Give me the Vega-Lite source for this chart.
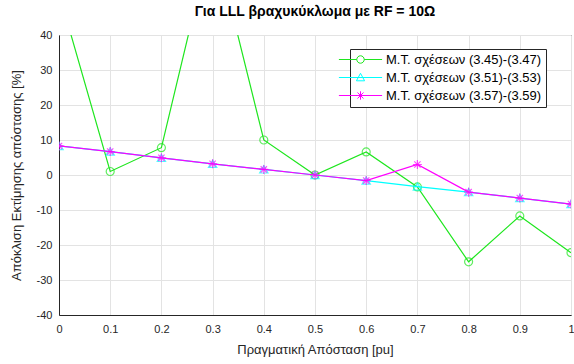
{
  "$schema": "https://vega.github.io/schema/vega-lite/v6.json",
  "width": 512,
  "height": 280,
  "autosize": {"type": "none"},
  "padding": {"left": 59, "top": 35, "right": 3, "bottom": 49},
  "background": "white",
  "title": {"text": "Για LLL βραχυκύκλωμα με RF = 10Ω", "fontSize": 14, "fontWeight": "bold", "font": "Liberation Sans", "color": "#000000", "offset": 10, "anchor": "middle"},
  "config": {
    "view": {"stroke": "#262626", "strokeWidth": 1},
    "font": "Liberation Sans",
    "axis": {"domainColor": "#262626", "gridColor": "#e3e3e3", "gridOpacity": 1, "ticks": false, "labelColor": "#262626", "labelFontSize": 11, "titleFontSize": 13, "titleFontWeight": "normal", "titleColor": "#262626", "labelFont": "Liberation Sans", "titleFont": "Liberation Sans"},
    "legend": {"orient": "none", "legendX": 291, "legendY": 14, "fillColor": "white", "strokeColor": "#262626", "padding": 4, "labelFontSize": 13, "labelFont": "Liberation Sans", "labelColor": "#000000", "symbolStrokeWidth": 1, "symbolOpacity": 1, "symbolSize": 144, "rowPadding": 4, "labelOffset": 19}
  },
  "data": {"values": [
    {"x": 0, "s": "M.T. σχέσεων (3.45)-(3.47)", "v": 52},
    {"x": 0.1, "s": "M.T. σχέσεων (3.45)-(3.47)", "v": 1},
    {"x": 0.2, "s": "M.T. σχέσεων (3.45)-(3.47)", "v": 7.8},
    {"x": 0.3, "s": "M.T. σχέσεων (3.45)-(3.47)", "v": 69},
    {"x": 0.4, "s": "M.T. σχέσεων (3.45)-(3.47)", "v": 10},
    {"x": 0.5, "s": "M.T. σχέσεων (3.45)-(3.47)", "v": 0},
    {"x": 0.6, "s": "M.T. σχέσεων (3.45)-(3.47)", "v": 6.6},
    {"x": 0.7, "s": "M.T. σχέσεων (3.45)-(3.47)", "v": -3.4},
    {"x": 0.8, "s": "M.T. σχέσεων (3.45)-(3.47)", "v": -24.8},
    {"x": 0.9, "s": "M.T. σχέσεων (3.45)-(3.47)", "v": -11.7},
    {"x": 1.0, "s": "M.T. σχέσεων (3.45)-(3.47)", "v": -22.2},
    {"x": 0, "s": "M.T. σχέσεων (3.51)-(3.53)", "v": 8.3},
    {"x": 0.1, "s": "M.T. σχέσεων (3.51)-(3.53)", "v": 6.7},
    {"x": 0.2, "s": "M.T. σχέσεων (3.51)-(3.53)", "v": 4.9},
    {"x": 0.3, "s": "M.T. σχέσεων (3.51)-(3.53)", "v": 3.2},
    {"x": 0.4, "s": "M.T. σχέσεων (3.51)-(3.53)", "v": 1.6},
    {"x": 0.5, "s": "M.T. σχέσεων (3.51)-(3.53)", "v": 0},
    {"x": 0.6, "s": "M.T. σχέσεων (3.51)-(3.53)", "v": -1.6},
    {"x": 0.7, "s": "M.T. σχέσεων (3.51)-(3.53)", "v": -3.3},
    {"x": 0.8, "s": "M.T. σχέσεων (3.51)-(3.53)", "v": -4.9},
    {"x": 0.9, "s": "M.T. σχέσεων (3.51)-(3.53)", "v": -6.6},
    {"x": 1.0, "s": "M.T. σχέσεων (3.51)-(3.53)", "v": -8.3},
    {"x": 0, "s": "M.T. σχέσεων (3.57)-(3.59)", "v": 8.3},
    {"x": 0.1, "s": "M.T. σχέσεων (3.57)-(3.59)", "v": 6.7},
    {"x": 0.2, "s": "M.T. σχέσεων (3.57)-(3.59)", "v": 4.9},
    {"x": 0.3, "s": "M.T. σχέσεων (3.57)-(3.59)", "v": 3.2},
    {"x": 0.4, "s": "M.T. σχέσεων (3.57)-(3.59)", "v": 1.6},
    {"x": 0.5, "s": "M.T. σχέσεων (3.57)-(3.59)", "v": 0},
    {"x": 0.6, "s": "M.T. σχέσεων (3.57)-(3.59)", "v": -1.6},
    {"x": 0.7, "s": "M.T. σχέσεων (3.57)-(3.59)", "v": 3.0},
    {"x": 0.8, "s": "M.T. σχέσεων (3.57)-(3.59)", "v": -4.9},
    {"x": 0.9, "s": "M.T. σχέσεων (3.57)-(3.59)", "v": -6.6},
    {"x": 1.0, "s": "M.T. σχέσεων (3.57)-(3.59)", "v": -8.3}
  ]},
  "encoding": {
    "x": {"field": "x", "type": "quantitative", "scale": {"domain": [0, 1], "nice": false, "zero": false}, "axis": {"values": [0, 0.1, 0.2, 0.3, 0.4, 0.5, 0.6, 0.7, 0.8, 0.9, 1], "format": "~g", "title": "Πραγματική Απόσταση [pu]", "labelPadding": 8, "titlePadding": 9, "labelFlush": false}},
    "y": {"field": "v", "type": "quantitative", "scale": {"domain": [-40, 40], "nice": false, "zero": false}, "axis": {"values": [-40, -30, -20, -10, 0, 10, 20, 30, 40], "labelExpr": "'' + datum.value", "title": "Απόκλιση Εκτίμησης απόστασης [%]", "labelPadding": 7, "titlePadding": 13, "labelFlush": false}}
  },
  "layer": [
    {
      "data": {"values": [{"h": 10}, {"h": -10}]},
      "mark": {"type": "rule", "color": "#4d4d4d", "strokeWidth": 1},
      "encoding": {"y": {"field": "h", "type": "quantitative"}, "x": {"datum": 0}, "x2": {"datum": 1}}
    },
    {
      "transform": [{"filter": "datum.s == 'M.T. σχέσεων (3.45)-(3.47)'"}],
      "mark": {"type": "line", "clip": true, "strokeWidth": 1.2, "color": "#1ee61e"},
      "encoding": {"order": {"field": "x"}}
    },
    {
      "transform": [{"filter": "datum.s == 'M.T. σχέσεων (3.45)-(3.47)'"}],
      "mark": {"type": "point", "shape": "circle", "filled": false, "size": 64, "color": "#1ee61e", "strokeWidth": 1.2, "clip": true}
    },
    {
      "transform": [{"filter": "datum.s == 'M.T. σχέσεων (3.51)-(3.53)'"}],
      "mark": {"type": "line", "clip": true, "strokeWidth": 1.2, "color": "#00ffff"},
      "encoding": {"order": {"field": "x"}}
    },
    {
      "transform": [{"filter": "datum.s == 'M.T. σχέσεων (3.51)-(3.53)'"}],
      "mark": {"type": "point", "shape": "triangle-up", "filled": false, "size": 70, "color": "#00ffff", "strokeWidth": 1.2, "clip": true}
    },
    {
      "transform": [{"filter": "datum.s == 'M.T. σχέσεων (3.57)-(3.59)'"}],
      "mark": {"type": "line", "clip": true, "strokeWidth": 1.2, "color": "#ff00ff"},
      "encoding": {"order": {"field": "x"}}
    },
    {
      "transform": [{"filter": "datum.s == 'M.T. σχέσεων (3.57)-(3.59)'"}],
      "mark": {"type": "point", "shape": "M-1,0L1,0M0,-1L0,1M-0.7,-0.7L0.7,0.7M-0.7,0.7L0.7,-0.7", "filled": false, "size": 81, "color": "#ff00ff", "strokeWidth": 1.2, "clip": true}
    },
    {
      "mark": {"type": "point", "filled": false, "opacity": 0, "size": 144, "clip": true},
      "encoding": {
        "color": {"field": "s", "type": "nominal", "title": null, "scale": {"domain": ["M.T. σχέσεων (3.45)-(3.47)", "M.T. σχέσεων (3.51)-(3.53)", "M.T. σχέσεων (3.57)-(3.59)"], "range": ["#1ee61e", "#00ffff", "#ff00ff"]}},
        "shape": {"field": "s", "type": "nominal", "title": null, "scale": {"domain": ["M.T. σχέσεων (3.45)-(3.47)", "M.T. σχέσεων (3.51)-(3.53)", "M.T. σχέσεων (3.57)-(3.59)"], "range": [
          "M-3.6,0L-0.62,0M0.62,0L3.6,0M0.62,0A0.62,0.62,0,1,1,-0.62,0A0.62,0.62,0,1,1,0.62,0",
          "M-3.6,0L3.6,0M0,-0.7L0.68,0.55L-0.68,0.55Z",
          "M-3.6,0L3.6,0M0,-0.7L0,0.7M-0.5,-0.5L0.5,0.5M-0.5,0.5L0.5,-0.5"
        ]}}
      }
    }
  ]
}
